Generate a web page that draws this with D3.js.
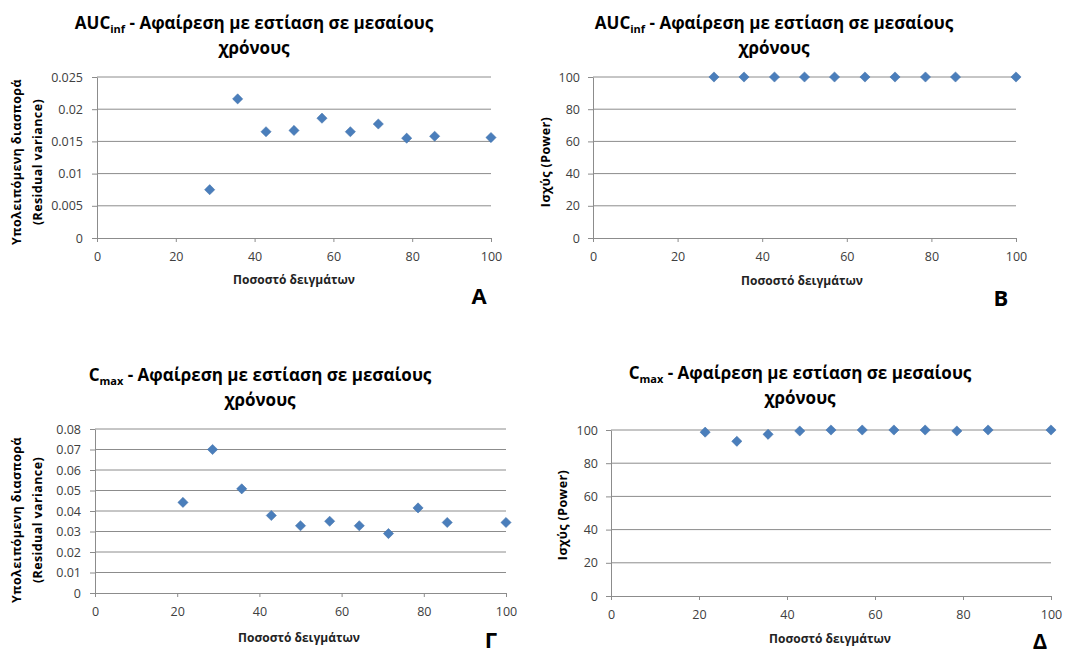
<!DOCTYPE html>
<html>
<head>
<meta charset="utf-8">
<script src="https://cdn.jsdelivr.net/npm/d3@7"></script>
<style>
  body { margin: 0; background: #fff; }
  text { font-family: "Open Sans", "Noto Sans", sans-serif; }
</style>
</head>
<body>
<div id="chart"></div>
<script>
// sample percentages (x values)
var pctCmax = [21.4, 28.6, 35.7, 42.9, 50, 57.1, 64.3, 71.4, 78.6, 85.7, 100];
var pctAuc = [28.6, 35.7, 42.9, 50, 57.1, 64.3, 71.4, 78.6, 85.7, 100];

// series values
var aucResidual = [0.0075, 0.0216, 0.0165, 0.0167, 0.0186, 0.0165, 0.0177, 0.0155, 0.0158, 0.0156];
var aucPower = [100, 100, 100, 100, 100, 100, 100, 100, 100, 100];
var cmaxResidual = [0.0442, 0.0700, 0.0508, 0.0378, 0.0328, 0.0350, 0.0328, 0.0290, 0.0415, 0.0344, 0.0344];
var cmaxPower = [98.7, 93.2, 97.4, 99.4, 100, 100, 100, 100, 99.4, 100, 100];

// tick values
var xTicks = [0, 20, 40, 60, 80, 100];
var aucResidualTicks = [0, 0.005, 0.01, 0.015, 0.02, 0.025];
var cmaxResidualTicks = [0, 0.01, 0.02, 0.03, 0.04, 0.05, 0.06, 0.07, 0.08];
var powerTicks = [0, 20, 40, 60, 80, 100];

// texts
var titleRest = " - Αφαίρεση με εστίαση σε μεσαίους";
var titleLine2 = "χρόνους";
var xLabel = "Ποσοστό δειγμάτων";
var residualLabel = ["Υπολειπόμενη διασπορά", "(Residual variance)"];
var powerLabel = "Ισχύς (Power)";

var W = 1065, H = 655;
var svg = d3.select("#chart").append("svg")
    .attr("width", W)
    .attr("height", H);

var gridColor = "#8c8c8c";
var tickColor = "#404040";
var markColor = "#4a7ebb";

function drawPanel(p) {
    var x = d3.scaleLinear().domain([0, 100]).range([p.x0, p.x1]);
    var y = d3.scaleLinear().domain([0, p.ymax]).range([p.y0, p.y1]);
    var g = svg.append("g");

    // horizontal gridlines
    g.append("g").selectAll("line")
        .data(p.yTicks.slice(1))
        .join("line")
        .attr("x1", p.x0).attr("x2", p.x1)
        .attr("y1", d => y(d)).attr("y2", d => y(d))
        .style("stroke", gridColor)
        .style("stroke-width", 1);

    // axes
    var gx = g.append("g")
        .attr("transform", "translate(0," + p.y0 + ")")
        .call(d3.axisBottom(x).tickValues(xTicks).tickSize(4).tickSizeOuter(0).tickPadding(10));
    var gy = g.append("g")
        .attr("transform", "translate(" + p.x0 + ",0)")
        .call(d3.axisLeft(y).tickValues(p.yTicks).tickSize(5).tickSizeOuter(0)
            .tickPadding(p.yPad).tickFormat(p.fmt));
    [gx, gy].forEach(function(a) {
        a.select(".domain").style("stroke", gridColor);
        a.selectAll(".tick line").style("stroke", gridColor);
        a.selectAll(".tick text")
            .style("font-size", "12.5px")
            .style("fill", tickColor);
    });

    // diamond markers
    var diamond = d3.symbol(d3.symbolSquare, 52);
    g.append("g").selectAll("path")
        .data(p.xs.map((v, i) => [v, p.ys[i]]))
        .join("path")
        .attr("d", diamond)
        .attr("transform", d => "translate(" + x(d[0]) + "," + y(d[1]) + ") rotate(45)")
        .style("fill", markColor)
        .style("stroke", "#3f6fa8")
        .style("stroke-width", 0.5);

    // title, two lines, with subscript
    var t = g.append("text")
        .attr("x", p.tx).attr("y", p.ty)
        .attr("text-anchor", "middle")
        .style("font-size", "17px")
        .style("font-weight", "bold")
        .style("fill", "#000");
    t.append("tspan").text(p.titleMain);
    t.append("tspan").attr("dy", 4).style("font-size", "11px").text(p.titleSub);
    t.append("tspan").attr("dy", -4).text(titleRest);
    g.append("text")
        .attr("x", p.tx).attr("y", p.ty + 25)
        .attr("text-anchor", "middle")
        .style("font-size", "17px")
        .style("font-weight", "bold")
        .text(titleLine2);

    // y label (rotated)
    p.yLabel.forEach(function(line, i) {
        g.append("text")
            .attr("transform", "translate(" + p.ylx[i] + "," + p.yly + ") rotate(-90)")
            .attr("text-anchor", "middle")
            .attr("dominant-baseline", "central")
            .style("font-size", "12.5px")
            .style("font-weight", "bold")
            .style("letter-spacing", "0.4px")
            .text(line);
    });

    // x label
    g.append("text")
        .attr("x", p.xlx).attr("y", p.xly)
        .attr("text-anchor", "middle")
        .style("font-size", "12px")
        .style("font-weight", "bold")
        .style("fill", "#222")
        .text(xLabel);

    // panel letter
    g.append("text")
        .attr("x", p.lx).attr("y", p.ly)
        .attr("text-anchor", "middle")
        .style("font-size", "22px")
        .style("font-weight", "bold")
        .text(p.letter);
}

var fmtDec = d3.format("~f");
var fmtInt = d3.format("d");

drawPanel({ x0: 97, x1: 491, y0: 238, y1: 77, ymax: 0.025, yTicks: aucResidualTicks, fmt: fmtDec, yPad: 9,
    xs: pctAuc, ys: aucResidual, titleMain: "AUC", titleSub: "inf", tx: 254, ty: 29,
    yLabel: residualLabel, ylx: [16, 37], yly: 162, xlx: 294, xly: 284, letter: "Α", lx: 479, ly: 304 });

drawPanel({ x0: 593, x1: 1016, y0: 238, y1: 77, ymax: 100, yTicks: powerTicks, fmt: fmtInt, yPad: 8,
    xs: pctAuc, ys: aucPower, titleMain: "AUC", titleSub: "inf", tx: 774, ty: 29,
    yLabel: [powerLabel], ylx: [545], yly: 162, xlx: 802, xly: 285, letter: "Β", lx: 1001, ly: 306 });

drawPanel({ x0: 95, x1: 506, y0: 593, y1: 429, ymax: 0.08, yTicks: cmaxResidualTicks, fmt: fmtDec, yPad: 9,
    xs: pctCmax, ys: cmaxResidual, titleMain: "C", titleSub: "max", tx: 260, ty: 381,
    yLabel: residualLabel, ylx: [16, 37], yly: 520, xlx: 299, xly: 642, letter: "Γ", lx: 491, ly: 648 });

drawPanel({ x0: 611, x1: 1051, y0: 596, y1: 430, ymax: 100, yTicks: powerTicks, fmt: fmtInt, yPad: 8,
    xs: pctCmax, ys: cmaxPower, titleMain: "C", titleSub: "max", tx: 800, ty: 379,
    yLabel: [powerLabel], ylx: [562], yly: 515, xlx: 830, xly: 643, letter: "Δ", lx: 1040, ly: 649 });
</script>
</body>
</html>
